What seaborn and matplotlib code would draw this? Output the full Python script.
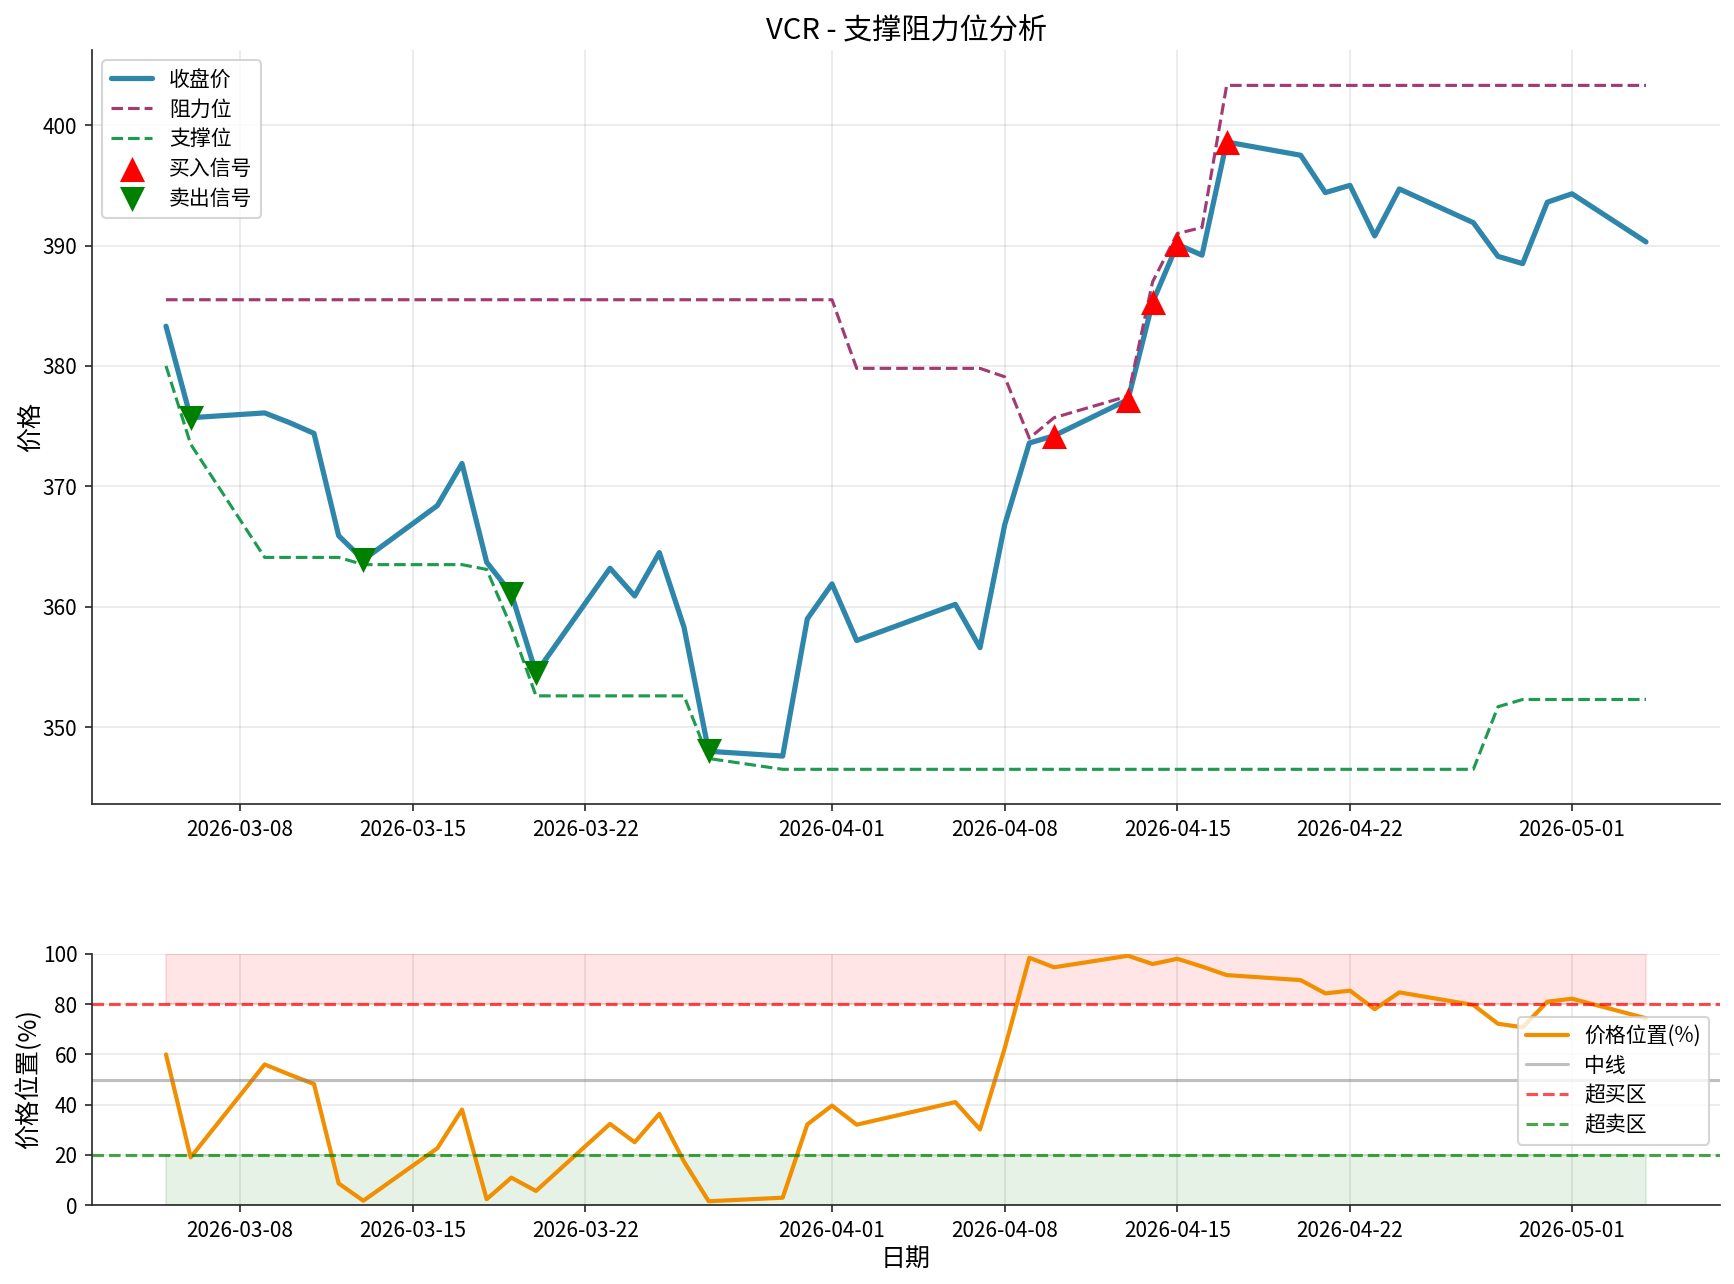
import pandas as pd
import matplotlib
matplotlib.use("Agg")
import matplotlib.pyplot as plt
import seaborn as sns

dates = ["2026-03-05","2026-03-06","2026-03-09","2026-03-10","2026-03-11","2026-03-12","2026-03-13",
         "2026-03-16","2026-03-17","2026-03-18","2026-03-19","2026-03-20",
         "2026-03-23","2026-03-24","2026-03-25","2026-03-26","2026-03-27",
         "2026-03-30","2026-03-31","2026-04-01","2026-04-02",
         "2026-04-06","2026-04-07","2026-04-08","2026-04-09","2026-04-10",
         "2026-04-13","2026-04-14","2026-04-15","2026-04-16","2026-04-17",
         "2026-04-20","2026-04-21","2026-04-22","2026-04-23","2026-04-24",
         "2026-04-27","2026-04-28","2026-04-29","2026-04-30","2026-05-01","2026-05-04"]
close = [383.3,375.7,376.1,375.3,374.4,365.9,363.9,
         368.4,371.9,363.7,361.1,354.5,
         363.2,360.9,364.5,358.3,348.0,
         347.6,359.0,361.9,357.2,
         360.2,356.6,366.8,373.6,374.2,
         377.2,385.3,390.1,389.2,398.6,
         397.5,394.4,395.0,390.8,394.7,
         391.9,389.1,388.5,393.6,394.3,390.3]
resistance = [385.5,385.5,385.5,385.5,385.5,385.5,385.5,
              385.5,385.5,385.5,385.5,385.5,
              385.5,385.5,385.5,385.5,385.5,
              385.5,385.5,385.5,379.8,
              379.8,379.8,379.1,374.0,375.7,
              377.5,387.0,391.0,391.5,403.3,
              403.3,403.3,403.3,403.3,403.3,
              403.3,403.3,403.3,403.3,403.3,403.3]
support = [380.0,373.5,364.1,364.1,364.1,364.1,363.5,
           363.5,363.5,363.1,358.3,352.6,
           352.6,352.6,352.6,352.6,347.4,
           346.5,346.5,346.5,346.5,
           346.5,346.5,346.5,346.5,346.5,
           346.5,346.5,346.5,346.5,346.5,
           346.5,346.5,346.5,346.5,346.5,
           346.5,351.7,352.3,352.3,352.3,352.3]
position = [60.0,19.0,56.0,52.0,48.2,8.6,1.7,
            22.6,38.0,2.3,10.9,5.6,
            32.3,25.0,36.3,17.3,1.5,
            2.9,32.1,39.6,32.0,
            41.0,30.1,62.4,98.5,94.7,
            99.3,96.0,98.1,95.0,91.6,
            89.6,84.3,85.4,78.0,84.7,
            79.7,72.2,70.8,81.0,82.2,74.4]
buy_dates = ["2026-04-10","2026-04-13","2026-04-14","2026-04-15","2026-04-17"]
sell_dates = ["2026-03-06","2026-03-13","2026-03-19","2026-03-20","2026-03-27"]

title = "VCR - 支撑阻力位分析"

sns.set_style("ticks")
plt.rcParams["font.family"] = ["Noto Sans CJK SC", "DejaVu Sans"]
plt.rcParams["axes.unicode_minus"] = False
plt.rcParams["text.color"] = "black"
plt.rcParams["axes.labelcolor"] = "black"
plt.rcParams["xtick.labelcolor"] = "black"
plt.rcParams["ytick.labelcolor"] = "black"

df = pd.DataFrame({"date": pd.to_datetime(dates), "close": close, "res": resistance,
                   "sup": support, "pos": position})
buy = df[df["date"].isin(pd.to_datetime(buy_dates))]
sell = df[df["date"].isin(pd.to_datetime(sell_dates))]

W, H = 1734, 1284
fig = plt.figure(figsize=(W / 150, H / 150), dpi=150)
ax1 = fig.add_axes([92 / W, 1 - 804 / H, 1628 / W, 754 / H])
ax2 = fig.add_axes([92 / W, 1 - 1205 / H, 1628 / W, 251 / H])

sns.lineplot(data=df, x="date", y="close", ax=ax1, color="#2E86AB", linewidth=2.5, label="收盘价", errorbar=None)
sns.lineplot(data=df, x="date", y="res", ax=ax1, color="#A23B72", linewidth=1.5, linestyle="--", label="阻力位", errorbar=None)
sns.lineplot(data=df, x="date", y="sup", ax=ax1, color="#1E9B50", linewidth=1.5, linestyle="--", label="支撑位", errorbar=None)
sns.scatterplot(data=buy, x="date", y="close", ax=ax1, color="red", marker="^", s=145, linewidth=0, zorder=5, label="买入信号")
sns.scatterplot(data=sell, x="date", y="close", ax=ax1, color="green", marker="v", s=145, linewidth=0, zorder=5, label="卖出信号")
ax1.set_ylim(343.62, 406.24)
ax1.set_title(title, fontsize=14, pad=5)
ax1.set_xlabel("")
ax1.set_ylabel("价格", fontsize=12)
ax1.yaxis.set_label_coords(-0.0294, 0.5)
ax1.legend(loc="upper left", fontsize=10, labelspacing=0.37)
ax1.grid(True, color="#b0b0b0", linewidth=0.9, alpha=0.25)

sns.lineplot(data=df, x="date", y="pos", ax=ax2, color="#F18F01", linewidth=2, label="价格位置(%)", errorbar=None)
ax2.axhline(50, color="gray", alpha=0.5, linewidth=1.5, label="中线")
ax2.axhline(80, color="red", alpha=0.7, linewidth=1.5, linestyle="--", label="超买区")
ax2.axhline(20, color="green", alpha=0.7, linewidth=1.5, linestyle="--", label="超卖区")
ax2.fill_between(df["date"], 80, 100, color="red", alpha=0.1)
ax2.fill_between(df["date"], 0, 20, color="green", alpha=0.1)
ax2.set_ylim(0, 100)
ax2.set_xlabel("日期", fontsize=12, labelpad=2)
ax2.set_ylabel("价格位置(%)", fontsize=12)
ax2.yaxis.set_label_coords(-0.0303, 0.5)
ax2.legend(loc="upper right", bbox_to_anchor=(0.9935, 0.75), borderaxespad=0, fontsize=10, labelspacing=0.37)
ax2.grid(True, color="#b0b0b0", linewidth=0.9, alpha=0.25)

sns.despine(fig=fig)
fig.savefig("out.png", dpi=150)
